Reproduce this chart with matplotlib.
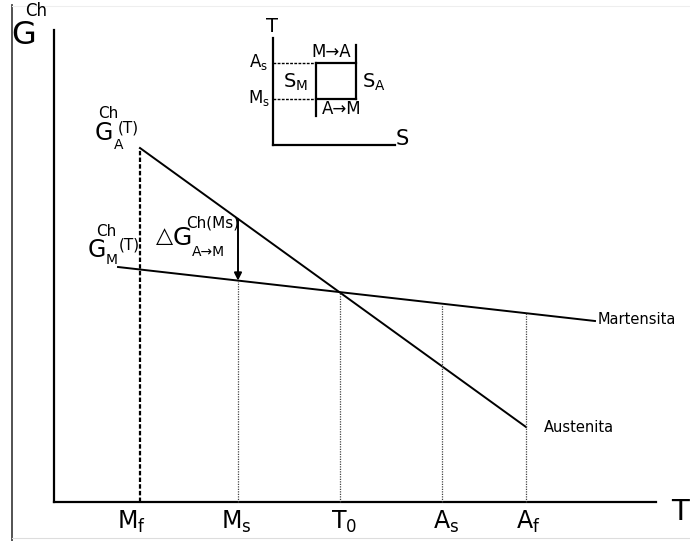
import numpy as np
import matplotlib
matplotlib.use("Agg")
import matplotlib.pyplot as plt

plt.rcParams['font.family'] = ['DejaVu Sans']
plt.rcParams['mathtext.fontset'] = 'dejavusans'

# -------------------------------
# data (schematic units, drawing space 690 x 541, y grows downward)
# -------------------------------
temp_labels = [r'M$_\mathrm{f}$', r'M$_\mathrm{s}$', r'T$_0$', r'A$_\mathrm{s}$', r'A$_\mathrm{f}$']
temp_pos = [140, 238, 340, 442, 526]
label_dx = [-9, -2, 4, 4, 2]

aust_T = [140, 526]
aust_G = [148, 427]
mart_T = [118, 595]
mart_G = [267, 321]

# inset: hysteresis loop in T-S
loop_S = [316, 356]
loop_T = [63, 99]   # A_s, M_s
inset_origin = [273, 145]

x_axis_y = 502
y_axis_x = 54

fig = plt.figure(figsize=(6.9, 5.41), dpi=100)
ax = fig.add_axes([0, 0, 1, 1])
ax.set_xlim(0, 690)
ax.set_ylim(541, 0)
ax.axis('off')

# frame border of the original picture
ax.plot([12, 12], [5, 541], color='#444444', lw=1.3)
ax.plot([12, 690], [538, 538], color='#dddddd', lw=0.8)
ax.plot([12, 690], [6, 6], color='#eeeeee', lw=0.8)

# main axes
ax.plot([y_axis_x, y_axis_x], [30, x_axis_y], color='black', lw=1.6)
ax.plot([y_axis_x, 656], [x_axis_y, x_axis_y], color='black', lw=1.6)

# G lines
ax.plot(aust_T, aust_G, color='black', lw=1.4)
ax.plot(mart_T, mart_G, color='black', lw=1.4)


def g_aust(t):
    return np.interp(t, aust_T, aust_G)


def g_mart(t):
    return np.interp(t, mart_T, mart_G)


# vertical dotted guides
for i, (lab, t) in enumerate(zip(temp_labels, temp_pos)):
    if i == 0:
        top = g_aust(t)
        ax.plot([t, t], [x_axis_y, top], color='black', lw=1.6, ls=(0, (2, 1)))
    else:
        top = g_mart(t)
        ax.plot([t, t], [x_axis_y, top], color='#444444', lw=0.9, ls=(0, (1, 1)))
    ax.text(t + label_dx[i], 522, lab, fontsize=17, ha='center', va='center')

# arrow at Ms
ms = temp_pos[1]
ax.annotate('', xy=(ms, g_mart(ms)), xytext=(ms, g_aust(ms)),
            arrowprops=dict(arrowstyle='-|>', color='black', lw=1.4,
                            mutation_scale=11, shrinkA=0, shrinkB=0))

# labels
ax.text(24, 36, 'G', fontsize=23, ha='center', va='center')
ax.text(25, 11, 'Ch', fontsize=12, ha='left', va='center')
ax.text(680, 512, 'T', fontsize=21, ha='center', va='center')

ax.text(104, 133, 'G', fontsize=17, ha='center', va='center')
ax.text(98, 113, 'Ch', fontsize=11, ha='left', va='center')
ax.text(119, 145, 'A', fontsize=10, ha='center', va='center')
ax.text(128, 128, '(T)', fontsize=11, ha='center', va='center')

ax.text(97, 250, 'G', fontsize=17, ha='center', va='center')
ax.text(106, 231, 'Ch', fontsize=11, ha='center', va='center')
ax.text(112, 260, 'M', fontsize=10, ha='center', va='center')
ax.text(129, 245, '(T)', fontsize=11, ha='center', va='center')

ax.text(164, 236, '△', fontsize=16, ha='center', va='center')
ax.text(182, 238, 'G', fontsize=18, ha='center', va='center')
ax.text(213, 223, 'Ch(Ms)', fontsize=11, ha='center', va='center')
ax.text(208, 252, 'A→M', fontsize=10, ha='center', va='center')

ax.text(598, 320, 'Martensita', fontsize=10.5, ha='left', va='center')
ax.text(544, 427, 'Austenita', fontsize=10.5, ha='left', va='center')

# inset diagram
ox, oy = inset_origin
ax.plot([ox, ox], [38, oy], color='black', lw=1.6)
ax.plot([ox, 395], [oy, oy], color='black', lw=1.6)
ax.text(272, 27, 'T', fontsize=14, ha='center', va='center')
ax.text(402, 139, 'S', fontsize=15, ha='center', va='center')

s_m, s_a = loop_S
t_as, t_ms = loop_T
ax.plot([s_m, s_a], [t_as, t_as], color='black', lw=1.6)
ax.plot([s_m, s_a], [t_ms, t_ms], color='black', lw=1.6)
ax.plot([s_m, s_m], [t_as, 116], color='black', lw=1.6)
ax.plot([s_a, s_a], [45, t_ms], color='black', lw=1.6)
ax.plot([ox, s_m], [t_as, t_as], color='black', lw=1.0, ls=(0, (2, 1)))
ax.plot([ox, s_m], [t_ms, t_ms], color='black', lw=1.0, ls=(0, (2, 1)))

ax.text(259, 62, r'A$_\mathrm{s}$', fontsize=12, ha='center', va='center')
ax.text(259, 98, r'M$_\mathrm{s}$', fontsize=12, ha='center', va='center')
ax.text(295, 82, r'S$_\mathrm{M}$', fontsize=14, ha='center', va='center')
ax.text(374, 82, r'S$_\mathrm{A}$', fontsize=14, ha='center', va='center')
ax.text(331, 52, 'M→A', fontsize=12, ha='center', va='center')
ax.text(342, 109, 'A→M', fontsize=12, ha='center', va='center')

fig.savefig('out.png', dpi=100)
